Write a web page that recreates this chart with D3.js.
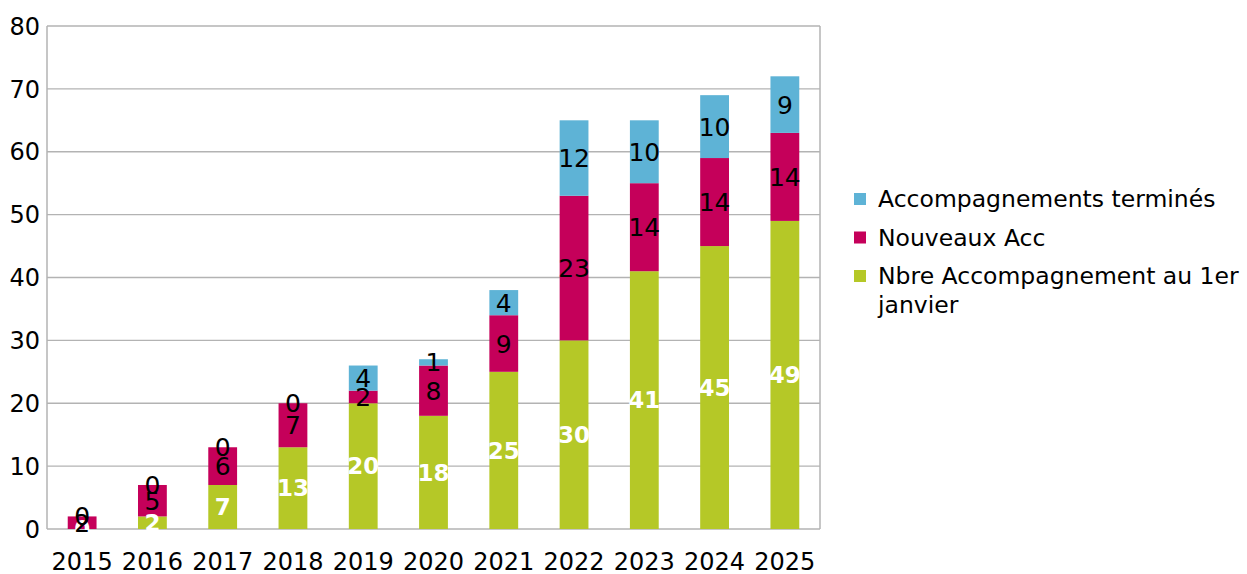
<!DOCTYPE html>
<html>
<head>
<meta charset="utf-8">
<script src="https://cdn.jsdelivr.net/npm/d3@7"></script>
<style>
body { margin: 0; background: #fff; }
svg text { font-family: "DejaVu Sans", sans-serif; }
</style>
</head>
<body>
<div class="container"></div>
<script>
var years = ['2015','2016','2017','2018','2019','2020','2021','2022','2023','2024','2025'];
var debutAnnee = [0, 2, 7, 13, 20, 18, 25, 30, 41, 45, 49];
var nouveaux = [2, 5, 6, 7, 2, 8, 9, 23, 14, 14, 14];
var termines = [0, 0, 0, 0, 4, 1, 4, 12, 10, 10, 9];
var yTicks = [0, 10, 20, 30, 40, 50, 60, 70, 80];

var colors = ['#b5c827', '#c5005a', '#5eb3d6'];
var labelColors = ['#fff', '#000', '#000'];

var WIDTH = 1247, HEIGHT = 574;
var plotLeft = 47, plotRight = 820, plotTop = 26, plotBottom = 529;

var svg = d3.select('.container').append('svg')
	.attr('width', WIDTH)
	.attr('height', HEIGHT);

var x = d3.scaleBand().domain(years).range([plotLeft, plotRight]).paddingInner(0.59).paddingOuter(0.295);
var y = d3.scaleLinear().domain([0, 80]).range([plotBottom, plotTop]);

// grid
svg.append('g').selectAll('line').data(yTicks).enter().append('line')
	.attr('x1', plotLeft).attr('x2', plotRight)
	.attr('y1', function(d) { return y(d); }).attr('y2', function(d) { return y(d); })
	.attr('stroke', '#b3b3b3').attr('stroke-width', 1.3);

// frame
svg.append('line').attr('x1', plotLeft).attr('x2', plotLeft).attr('y1', plotTop).attr('y2', plotBottom)
	.attr('stroke', '#b3b3b3').attr('stroke-width', 1.5);
svg.append('line').attr('x1', plotRight).attr('x2', plotRight).attr('y1', plotTop).attr('y2', plotBottom)
	.attr('stroke', '#b3b3b3').attr('stroke-width', 1.5);

var table = years.map(function(yr, i) {
	return { year: yr, s0: debutAnnee[i], s1: nouveaux[i], s2: termines[i] };
});
var stacked = d3.stack().keys(['s0', 's1', 's2'])(table);

var groups = svg.append('g').selectAll('g').data(stacked).enter().append('g')
	.attr('fill', function(d, i) { return colors[i]; });

groups.selectAll('rect').data(function(d) { return d; }).enter().append('rect')
	.attr('x', function(d) { return x(d.data.year); })
	.attr('width', x.bandwidth())
	.attr('y', function(d) { return y(d[1]); })
	.attr('height', function(d) { return y(d[0]) - y(d[1]); });

// data labels
stacked.forEach(function(layer, i) {
	svg.append('g').selectAll('text').data(layer).enter().append('text')
		.attr('x', function(d) { return x(d.data.year) + x.bandwidth() / 2; })
		.attr('y', function(d) { return y((d[0] + d[1]) / 2); })
		.attr('dy', '0.36em')
		.attr('text-anchor', 'middle')
		.attr('font-size', i === 0 ? 23 : 25)
		.attr('font-weight', i === 0 ? 'bold' : 'normal')
		.attr('fill', labelColors[i])
		.text(function(d) { return d[1] - d[0]; });
});

// y axis labels
svg.append('g').selectAll('text').data(yTicks).enter().append('text')
	.attr('x', 40).attr('y', function(d) { return y(d); })
	.attr('dy', '0.36em').attr('text-anchor', 'end')
	.attr('font-size', 24).attr('fill', '#000')
	.text(function(d) { return d; });

// x axis labels
svg.append('g').selectAll('text').data(years).enter().append('text')
	.attr('x', function(d) { return x(d) + x.bandwidth() / 2; })
	.attr('y', 570)
	.attr('text-anchor', 'middle')
	.attr('font-size', 24).attr('fill', '#000')
	.text(function(d) { return d; });

// legend
var legend = [
	{ color: colors[2], lines: ['Accompagnements terminés'] },
	{ color: colors[1], lines: ['Nouveaux Acc'] },
	{ color: colors[0], lines: ['Nbre Accompagnement au 1er', 'janvier'] }
];
var lg = svg.append('g').attr('transform', 'translate(854,199)');
legend.forEach(function(item, i) {
	var g = lg.append('g').attr('transform', 'translate(0,' + (i * 38.5) + ')');
	g.append('rect').attr('x', 0).attr('y', -6).attr('width', 12).attr('height', 12).attr('fill', item.color);
	item.lines.forEach(function(line, j) {
		g.append('text').attr('x', 24).attr('y', j * 29).attr('dy', '0.36em')
			.attr('font-size', 23.5).attr('fill', '#000').text(line);
	});
});
</script>
</body>
</html>
